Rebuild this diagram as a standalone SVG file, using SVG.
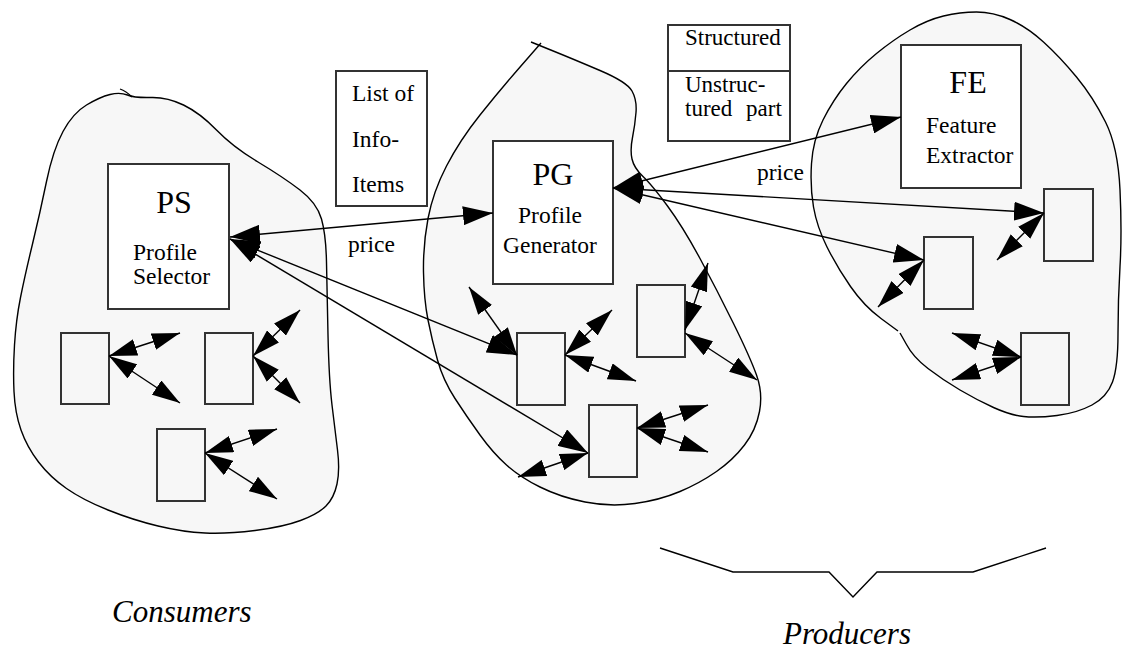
<svg xmlns="http://www.w3.org/2000/svg" width="1122" height="649" viewBox="0 0 1122 649">
<style>
.blob{fill:#f7f7f7;stroke:#000;stroke-width:1.4}
.box{fill:#fff;stroke:#333;stroke-width:2}
.sbox{fill:#f7f7f7;stroke:#333;stroke-width:2}
.body{font-family:"Liberation Serif","Times New Roman",serif;font-size:23.5px;fill:#000}
.leg{font-family:"Liberation Serif","Times New Roman",serif;font-size:23px;fill:#000}
.h{font-family:"Liberation Serif","Times New Roman",serif;font-size:32px;fill:#000;text-anchor:middle}
.i{font-family:"Liberation Serif","Times New Roman",serif;font-size:31px;font-style:italic;fill:#000}
.a{fill:none;stroke:#000;stroke-width:1.4;marker-start:url(#ah);marker-end:url(#ah)}
.A{fill:none;stroke:#000;stroke-width:1.4;marker-start:url(#AH);marker-end:url(#AH)}
</style>
<defs>
<marker id="ah" viewBox="0 0 28 17" refX="28" refY="8.5" markerWidth="28" markerHeight="17" markerUnits="userSpaceOnUse" orient="auto-start-reverse"><path d="M0,0 L28,8.5 L0,17 z" fill="#000"/></marker>
<marker id="AH" viewBox="0 0 30 19" refX="30" refY="9.5" markerWidth="30" markerHeight="19" markerUnits="userSpaceOnUse" orient="auto-start-reverse"><path d="M0,0 L30,9.5 L0,19 z" fill="#000"/></marker>
</defs>

<g id="consumers-blob">
<path class="blob" d="M110,94.5 Q120,92 127.5,95 Q135,98 151,97.5 Q167,97 183.5,105 Q200,113 216.5,130 Q233,147 258,162 Q283,177 300,190 Q317,203 321.5,219 Q326,235 326.5,262.5 Q327,290 328,335 Q329,380 332,405 Q335,430 337.5,450 Q340,470 337,484 Q334,498 326,506 Q318,514 300.5,520.5 Q283,527 255,530.5 Q227,534 205,533 Q183,532 158,526 Q133,520 108,510 Q83,500 66.5,488.5 Q50,477 38.5,462 Q27,447 21,430 Q15,413 14,391.5 Q13,370 14.5,345 Q16,320 20.5,297.5 Q25,275 32.5,244 Q40,213 46.5,181.5 Q53,150 63,131.5 Q73,113 86.5,105 Q100,97 110,94.5 Z"/>
<path d="M120,89 Q126,91 132,97" fill="none" stroke="#000" stroke-width="1.2"/>
</g>
<g id="pg-blob">
<path class="blob" d="M531,42 L552,50.5 Q573,59 600,70.5 Q627,82 632,91 Q637,100 636,112.5 Q635,125 632.5,137.5 Q630,150 632,159 Q634,168 643,176.5 Q652,185 667.5,206 Q683,227 700,258.5 Q717,290 733.5,323.5 Q750,357 756.5,375 Q763,393 759.5,411.5 Q756,430 744.5,445 Q733,460 716.5,471.5 Q700,483 680,491.5 Q660,500 635,503.5 Q610,507 585,502 Q560,497 540,487 Q520,477 506.5,465 Q493,453 480,435 Q467,417 455,398.5 Q443,380 437.5,360 Q432,340 428,320 Q424,300 423.5,272.5 Q423,245 428,218.5 Q433,192 446.5,166 Q460,140 480,115 Q500,90 520.5,66.5 L541,43"/>
</g>
<g id="fe-blob">
<path class="blob" d="M898,331 L881,318.5 Q864,306 850.5,286.5 Q837,267 827,247 Q817,227 813.5,207 Q810,187 811.5,163.5 Q813,140 823,120 Q833,100 846.5,83.5 Q860,67 876.5,53.5 Q893,40 910,30 Q927,20 943.5,16 Q960,12 976.5,12 Q993,12 1010,19.5 Q1027,27 1043.5,42 Q1060,57 1076.5,77 Q1093,97 1105.5,122 Q1118,147 1120,190 Q1122,233 1120,266.5 Q1118,300 1118,333.5 Q1118,367 1112.5,382 Q1107,397 1092,405 Q1077,413 1057,415.5 Q1037,418 1023.5,416.5 Q1010,415 993.5,407.5 Q977,400 960,390 Q943,380 928,368.5 Q913,357 906.5,344.5 L900,333"/>
</g>

<g id="PS">
<rect class="box" x="108" y="164" width="121" height="145"/>
<text class="h" x="174" y="213">PS</text>
<text class="body" x="133" y="260">Profile</text>
<text class="body" x="133" y="284">Selector</text>
</g>
<g id="PG">
<rect class="box" x="493" y="141" width="120" height="143"/>
<text class="h" x="553" y="185">PG</text>
<text class="body" x="518" y="223">Profile</text>
<text class="body" x="503" y="253">Generator</text>
</g>
<g id="FE">
<rect class="box" x="901" y="45" width="120" height="143"/>
<text class="h" x="968" y="93">FE</text>
<text class="body" x="926" y="133">Feature</text>
<text class="body" x="926" y="163">Extractor</text>
</g>
<g id="list-of-info-items">
<rect class="box" x="336" y="71" width="91" height="135"/>
<text class="body" x="352" y="101">List of</text>
<text class="body" x="352" y="147">Info-</text>
<text class="body" x="352" y="192">Items</text>
</g>
<g id="structured-legend">
<rect class="box" x="668" y="25" width="122" height="116"/>
<line x1="668" y1="71" x2="790" y2="71" stroke="#333" stroke-width="2"/>
<text class="leg" x="685" y="45">Structured</text>
<text class="leg" x="685" y="92">Unstruc-</text>
<text class="leg" x="685" y="116" word-spacing="8">tured part</text>
</g>

<g id="c1"><rect class="sbox" x="61" y="333" width="48" height="71"/></g>
<g id="c2"><rect class="sbox" x="205" y="333" width="48" height="71"/></g>
<g id="c3"><rect class="sbox" x="157" y="429" width="48" height="72"/></g>
<g id="g1"><rect class="sbox" x="517" y="333" width="48" height="72"/></g>
<g id="g2"><rect class="sbox" x="637" y="285" width="48" height="72"/></g>
<g id="g3"><rect class="sbox" x="589" y="405" width="48" height="72"/></g>
<g id="f1"><rect class="sbox" x="1044" y="189" width="49" height="72"/></g>
<g id="f2"><rect class="sbox" x="924" y="237" width="49" height="72"/></g>
<g id="f3"><rect class="sbox" x="1021" y="333" width="48" height="72"/></g>

<g id="connectors">
<line class="a" x1="109" y1="356" x2="180" y2="333"/>
<line class="a" x1="109" y1="356" x2="180" y2="403"/>
<line class="a" x1="253" y1="356" x2="300" y2="310"/>
<line class="a" x1="253" y1="356" x2="300" y2="403"/>
<line class="a" x1="205" y1="453" x2="277" y2="429"/>
<line class="a" x1="205" y1="453" x2="277" y2="499"/>
<line class="a" x1="517" y1="355" x2="469" y2="287"/>
<line class="a" x1="565" y1="355" x2="612" y2="310"/>
<line class="a" x1="565" y1="355" x2="636" y2="381"/>
<line class="a" x1="685" y1="330" x2="708" y2="263"/>
<line class="a" x1="685" y1="333" x2="757" y2="380"/>
<line class="a" x1="637" y1="428" x2="708" y2="405"/>
<line class="a" x1="637" y1="428" x2="708" y2="452"/>
<line class="a" x1="588" y1="453" x2="518" y2="477"/>
<line class="a" x1="1044" y1="213" x2="997" y2="260"/>
<line class="a" x1="924" y1="260" x2="878" y2="307"/>
<line class="a" x1="1021" y1="357" x2="952" y2="333"/>
<line class="a" x1="1021" y1="357" x2="952" y2="380"/>
<line class="A" x1="230" y1="237" x2="493" y2="213"/>
<line class="A" x1="230" y1="239" x2="517" y2="355"/>
<line class="A" x1="230" y1="239" x2="588" y2="453"/>
<line class="A" x1="613" y1="188" x2="901" y2="117"/>
<line class="A" x1="613" y1="188" x2="1044" y2="213"/>
<line class="A" x1="613" y1="188" x2="924" y2="260"/>
</g>

<g id="labels">
<text class="body" x="348" y="252">price</text>
<text class="body" x="757" y="180">price</text>
<polyline points="660,548 733,572 829,572 853,597 877,572 973,572 1046,548" fill="none" stroke="#000" stroke-width="1.4"/>
<text class="i" x="112" y="622">Consumers</text>
<text class="i" x="783" y="644">Producers</text>
</g>
</svg>
